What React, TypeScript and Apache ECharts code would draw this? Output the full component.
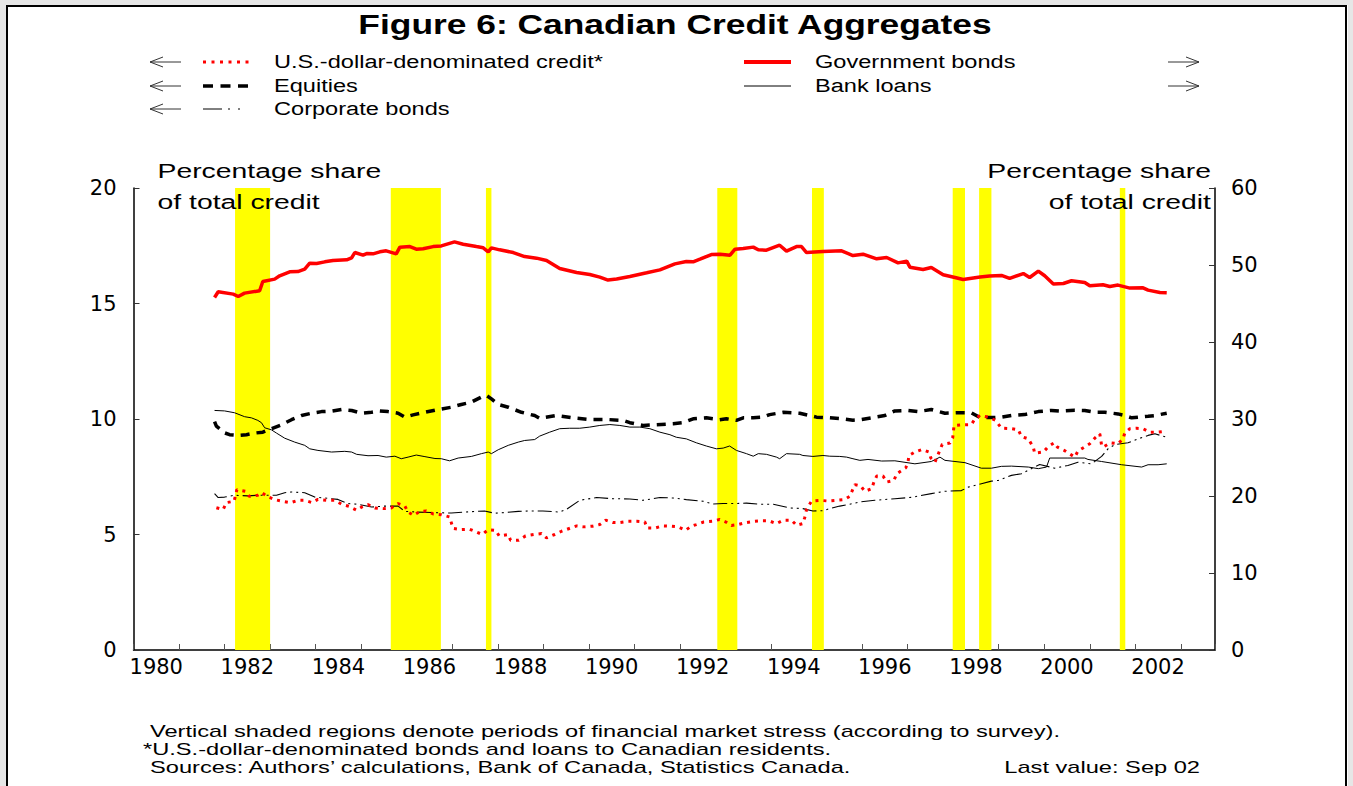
import React, { useEffect, useRef } from "react";
import * as echarts from "echarts";

// Periods of financial market stress (start year, end year)
const stressPeriods: [number, number][] = [
  [1982.23, 1983.0], [1985.65, 1986.75], [1987.74, 1987.86], [1992.82, 1993.26],
  [1994.9, 1995.16], [1997.99, 1998.26], [1998.57, 1998.84], [2001.66, 2001.78],
];

// Government bonds (right axis, % of total credit)
const govBonds: [number, number][] = [
  [1981.78,45.78],[1981.86,46.52],[1982.19,46.22],[1982.30,45.91],[1982.44,46.35],[1982.77,46.65],[1982.84,47.86],
  [1983.10,48.17],[1983.21,48.60],[1983.43,49.11],[1983.61,49.15],[1983.76,49.46],[1983.87,50.24],[1984.02,50.19],
  [1984.20,50.41],[1984.38,50.58],[1984.68,50.67],[1984.79,50.93],[1984.86,51.62],[1985.04,51.28],[1985.12,51.49],
  [1985.26,51.45],[1985.41,51.71],[1985.55,51.84],[1985.77,51.45],[1985.85,52.32],[1986.07,52.39],[1986.21,52.06],
  [1986.36,52.10],[1986.58,52.39],[1986.76,52.48],[1987.05,53.00],[1987.24,52.70],[1987.53,52.39],[1987.68,52.23],
  [1987.79,51.71],[1987.86,52.23],[1988.04,51.97],[1988.34,51.62],[1988.59,51.10],[1988.85,50.89],[1989.07,50.58],
  [1989.36,49.54],[1989.73,49.02],[1990.02,48.76],[1990.24,48.43],[1990.42,48.04],[1990.61,48.17],[1990.90,48.51],
  [1991.27,48.99],[1991.56,49.37],[1991.89,50.15],[1992.14,50.45],[1992.29,50.41],[1992.44,50.76],[1992.69,51.36],
  [1992.88,51.41],[1993.10,51.28],[1993.21,52.06],[1993.39,52.13],[1993.61,52.32],[1993.72,51.97],[1993.90,51.93],
  [1994.19,52.57],[1994.34,51.80],[1994.56,52.39],[1994.67,52.39],[1994.78,51.62],[1995.14,51.75],[1995.55,51.84],
  [1995.80,51.23],[1996.02,51.41],[1996.32,50.80],[1996.54,50.97],[1996.79,50.28],[1996.98,50.50],[1997.05,49.72],
  [1997.34,49.41],[1997.52,49.67],[1997.78,48.73],[1998.04,48.38],[1998.22,48.12],[1998.59,48.43],[1998.80,48.56],
  [1999.06,48.64],[1999.24,48.25],[1999.54,48.89],[1999.68,48.38],[1999.87,49.21],[2000.01,48.60],[2000.20,47.52],
  [2000.42,47.60],[2000.60,47.95],[2000.89,47.73],[2001.00,47.30],[2001.29,47.43],[2001.44,47.21],[2001.62,47.39],
  [2001.88,47.00],[2002.17,47.04],[2002.28,46.74],[2002.54,46.43],[2002.69,46.39],
];

// Equities (left axis)
const equities: [number, number][] = [
  [1981.78,9.89],[1981.82,9.69],[1982.00,9.40],[1982.11,9.32],[1982.30,9.29],[1982.48,9.32],[1982.66,9.39],
  [1982.84,9.43],[1983.03,9.58],[1983.25,9.75],[1983.47,9.97],[1983.69,10.15],[1983.91,10.25],[1984.13,10.32],
  [1984.35,10.34],[1984.57,10.41],[1984.79,10.37],[1985.01,10.25],[1985.23,10.29],[1985.41,10.35],[1985.59,10.32],
  [1985.81,10.25],[1985.96,10.08],[1986.14,10.18],[1986.40,10.29],[1986.69,10.41],[1986.98,10.51],[1987.20,10.63],
  [1987.42,10.73],[1987.68,10.99],[1987.75,11.02],[1987.86,10.87],[1988.01,10.63],[1988.23,10.51],[1988.52,10.29],
  [1988.81,10.15],[1988.92,10.03],[1989.29,10.15],[1989.65,10.05],[1990.02,9.98],[1990.39,9.98],[1990.75,9.94],
  [1990.90,9.84],[1991.19,9.72],[1991.48,9.75],[1991.85,9.79],[1992.07,9.84],[1992.29,10.01],[1992.58,10.05],
  [1992.87,9.97],[1993.02,10.01],[1993.24,9.94],[1993.39,10.05],[1993.61,10.05],[1993.83,10.08],[1993.97,10.19],
  [1994.27,10.29],[1994.63,10.25],[1995.00,10.08],[1995.29,10.05],[1995.58,10.01],[1995.80,9.95],[1995.99,9.98],
  [1996.21,10.05],[1996.50,10.15],[1996.72,10.35],[1997.01,10.37],[1997.23,10.32],[1997.52,10.41],[1997.82,10.25],
  [1998.11,10.27],[1998.40,10.27],[1998.59,10.06],[1998.84,10.06],[1999.06,10.08],[1999.28,10.15],[1999.57,10.19],
  [1999.87,10.32],[2000.16,10.37],[2000.38,10.34],[2000.67,10.38],[2000.89,10.37],[2001.11,10.29],[2001.33,10.29],
  [2001.62,10.22],[2001.77,10.15],[2001.92,10.05],[2002.28,10.12],[2002.43,10.15],[2002.69,10.25],
];

// Bank loans (left axis)
const bankLoans: [number, number][] = [
  [1981.78,10.37],[1982.00,10.35],[1982.22,10.27],[1982.44,10.10],[1982.59,10.05],[1982.73,9.94],[1982.81,9.84],
  [1982.88,9.62],[1983.03,9.53],[1983.14,9.39],[1983.32,9.17],[1983.54,9.00],[1983.76,8.86],[1983.87,8.71],
  [1984.05,8.64],[1984.35,8.57],[1984.64,8.60],[1984.79,8.57],[1984.90,8.47],[1985.15,8.41],[1985.37,8.42],
  [1985.55,8.35],[1985.74,8.39],[1985.88,8.28],[1986.03,8.35],[1986.21,8.44],[1986.40,8.37],[1986.62,8.29],
  [1986.76,8.28],[1986.94,8.19],[1987.13,8.31],[1987.42,8.38],[1987.64,8.50],[1987.79,8.57],[1987.86,8.50],
  [1988.01,8.67],[1988.23,8.86],[1988.45,9.00],[1988.59,9.07],[1988.81,9.11],[1988.92,9.26],[1989.14,9.43],
  [1989.36,9.58],[1989.58,9.60],[1989.80,9.60],[1990.02,9.65],[1990.24,9.72],[1990.46,9.76],[1990.68,9.72],
  [1990.90,9.65],[1991.12,9.65],[1991.34,9.58],[1991.56,9.43],[1991.78,9.32],[1991.92,9.21],[1992.14,9.14],
  [1992.36,8.97],[1992.58,8.83],[1992.80,8.71],[1992.95,8.74],[1993.09,8.83],[1993.24,8.64],[1993.46,8.50],
  [1993.61,8.39],[1993.72,8.50],[1993.90,8.47],[1994.12,8.35],[1994.19,8.28],[1994.34,8.50],[1994.63,8.47],
  [1994.70,8.42],[1994.92,8.38],[1995.14,8.42],[1995.29,8.39],[1995.51,8.38],[1995.66,8.35],[1995.80,8.28],
  [1995.95,8.21],[1996.13,8.25],[1996.43,8.18],[1996.72,8.19],[1997.16,8.06],[1997.52,8.16],[1997.71,8.35],
  [1997.82,8.21],[1998.04,8.16],[1998.26,8.11],[1998.62,7.87],[1998.84,7.87],[1999.06,7.95],[1999.28,7.96],
  [1999.65,7.92],[1999.87,7.85],[2000.05,7.92],[2000.12,8.31],[2000.52,8.31],[2000.89,8.31],[2000.96,8.25],
  [2001.26,8.16],[2001.70,8.02],[2002.14,7.92],[2002.28,8.02],[2002.50,8.02],[2002.69,8.06],
];

// Corporate bonds (left axis)
const corporateBonds: [number, number][] = [
  [1981.78,6.77],[1981.86,6.60],[1982.00,6.62],[1982.22,6.70],[1982.51,6.67],[1982.73,6.70],[1983.14,6.70],
  [1983.32,6.81],[1983.47,6.84],[1983.76,6.81],[1983.98,6.62],[1984.20,6.58],[1984.49,6.52],[1984.71,6.34],
  [1984.93,6.31],[1985.23,6.19],[1985.52,6.23],[1985.81,6.23],[1985.96,6.00],[1986.25,5.97],[1986.54,5.95],
  [1986.98,5.93],[1987.27,5.97],[1987.71,6.02],[1987.93,5.92],[1988.15,5.95],[1988.45,6.00],[1988.74,6.02],
  [1988.99,6.02],[1989.36,5.97],[1989.51,6.09],[1989.80,6.48],[1990.17,6.60],[1990.53,6.55],[1990.90,6.54],
  [1991.19,6.48],[1991.56,6.60],[1991.85,6.58],[1992.14,6.51],[1992.51,6.44],[1992.73,6.32],[1992.95,6.34],
  [1993.24,6.34],[1993.46,6.36],[1993.75,6.31],[1994.05,6.31],[1994.41,6.15],[1994.70,6.12],[1994.92,6.02],
  [1995.14,6.03],[1995.29,6.12],[1995.51,6.23],[1995.73,6.31],[1995.95,6.41],[1996.28,6.48],[1996.72,6.55],
  [1997.09,6.61],[1997.52,6.77],[1997.82,6.87],[1998.18,6.90],[1998.33,7.05],[1998.62,7.20],[1998.84,7.31],
  [1998.99,7.34],[1999.28,7.56],[1999.50,7.63],[1999.65,7.78],[1999.90,8.03],[2000.23,7.87],[2000.52,7.99],
  [2000.74,8.13],[2001.04,8.06],[2001.26,8.38],[2001.40,8.71],[2001.55,8.89],[2001.84,8.97],[2002.06,9.14],
  [2002.28,9.29],[2002.43,9.36],[2002.69,9.21],
];

// U.S.-dollar-denominated credit (left axis)
const usdCredit: [number, number][] = [
  [1981.82,6.16],[1981.97,6.08],[1982.04,6.38],[1982.21,6.44],[1982.27,6.94],[1982.46,6.87],[1982.54,6.65],
  [1982.73,6.70],[1982.82,6.81],[1982.95,6.64],[1983.10,6.51],[1983.27,6.44],[1983.45,6.38],[1983.61,6.48],
  [1983.76,6.48],[1983.92,6.38],[1984.05,6.52],[1984.24,6.48],[1984.42,6.48],[1984.57,6.31],[1984.73,6.22],
  [1984.90,6.05],[1985.01,6.19],[1985.15,6.29],[1985.30,6.15],[1985.48,6.12],[1985.66,6.15],[1985.81,6.34],
  [1985.96,6.23],[1986.03,5.97],[1986.15,5.83],[1986.29,6.00],[1986.43,6.02],[1986.58,5.89],[1986.76,5.86],
  [1986.94,5.76],[1987.02,5.26],[1987.20,5.21],[1987.38,5.23],[1987.53,5.11],[1987.66,5.00],[1987.79,5.21],
  [1987.95,5.18],[1988.03,4.94],[1988.23,5.00],[1988.28,4.75],[1988.46,4.75],[1988.61,4.94],[1988.80,5.00],
  [1988.96,5.04],[1989.07,4.85],[1989.25,5.00],[1989.40,5.14],[1989.57,5.26],[1989.73,5.37],[1989.89,5.33],
  [1990.08,5.36],[1990.24,5.43],[1990.37,5.62],[1990.53,5.52],[1990.68,5.52],[1990.86,5.57],[1991.05,5.57],
  [1991.23,5.54],[1991.28,5.28],[1991.45,5.28],[1991.62,5.37],[1991.78,5.36],[1991.96,5.33],[1992.12,5.18],
  [1992.25,5.36],[1992.36,5.43],[1992.52,5.54],[1992.71,5.57],[1992.87,5.65],[1993.01,5.54],[1993.13,5.39],
  [1993.28,5.43],[1993.46,5.52],[1993.63,5.57],[1993.79,5.59],[1993.96,5.59],[1994.12,5.47],[1994.27,5.62],
  [1994.45,5.62],[1994.56,5.40],[1994.70,5.47],[1994.74,5.73],[1994.78,6.08],[1994.89,6.45],[1995.07,6.48],
  [1995.25,6.45],[1995.44,6.48],[1995.61,6.51],[1995.73,6.65],[1995.84,7.16],[1995.97,7.10],[1996.06,6.87],
  [1996.21,6.98],[1996.26,7.27],[1996.32,7.53],[1996.46,7.53],[1996.54,7.27],[1996.70,7.34],[1996.76,7.63],
  [1996.96,7.89],[1997.01,8.16],[1997.03,8.42],[1997.16,8.57],[1997.32,8.68],[1997.47,8.57],[1997.51,8.31],
  [1997.60,8.13],[1997.76,8.90],[1997.93,8.96],[1997.99,9.19],[1998.02,9.72],[1998.22,9.75],[1998.40,9.76],
  [1998.48,10.01],[1998.59,10.15],[1998.77,10.08],[1998.93,9.94],[1999.06,9.60],[1999.28,9.58],[1999.43,9.53],
  [1999.50,9.24],[1999.65,9.14],[1999.76,8.78],[1999.79,8.52],[1999.98,8.57],[2000.09,8.81],[2000.22,8.97],
  [2000.29,8.78],[2000.45,8.63],[2000.67,8.35],[2000.74,8.61],[2000.88,8.78],[2001.00,8.93],[2001.11,9.17],
  [2001.22,9.36],[2001.26,8.86],[2001.29,8.78],[2001.46,8.97],[2001.62,8.93],[2001.73,9.14],[2001.77,9.40],
  [2001.88,9.58],[2002.03,9.60],[2002.17,9.58],[2002.32,9.43],[2002.50,9.43],[2002.69,9.47],
];

const titleText = "Figure 6: Canadian Credit Aggregates";
const footnotes = [
  "Vertical shaded regions denote periods of financial market stress (according to survey).",
  "*U.S.-dollar-denominated bonds and loans to Canadian residents.",
  "Sources: Authors\u2019 calculations, Bank of Canada, Statistics Canada.",
];
const lastValueText = "Last value: Sep 02";

const FONT = "'Liberation Sans', Arial, sans-serif";

function txt(x: number, y: number, text: string, size: number, sx: number, align = "left", bold = false) {
  return {
    type: "text",
    x,
    y,
    scaleX: sx,
    z: 100,
    silent: true,
    style: {
      text,
      fill: "#000",
      fontSize: size,
      fontFamily: FONT,
      fontWeight: bold ? "bold" : "normal",
      textAlign: align,
      align,
      textVerticalAlign: "middle",
      verticalAlign: "middle",
    },
  };
}

function seg(x1: number, y: number, x2: number, stroke: string, width: number, dash?: number[]) {
  return {
    type: "line",
    z: 100,
    silent: true,
    shape: { x1, y1: y, x2, y2: y },
    style: { stroke, lineWidth: width, lineDash: dash || null, lineCap: "butt" },
  };
}

function arrowLeft(y: number) {
  return [
    seg(150, y, 181, "#333", 1),
    { type: "polyline", z: 100, silent: true, shape: { points: [[163, y - 5], [150, y], [163, y + 5]] }, style: { stroke: "#333", lineWidth: 1, fill: null } },
  ];
}
function arrowRight(y: number) {
  return [
    seg(1168, y, 1199, "#333", 1),
    { type: "polyline", z: 100, silent: true, shape: { points: [[1186, y - 5], [1199, y], [1186, y + 5]] }, style: { stroke: "#333", lineWidth: 1, fill: null } },
  ];
}

export default function App() {
  const ref = useRef<HTMLDivElement>(null);
  useEffect(() => {
    const chart = echarts.init(ref.current as HTMLDivElement, null, { renderer: "svg" });
    const axisFont = { color: "#000", fontSize: 21, fontFamily: "'DejaVu Sans', sans-serif" };
    const rows = [62, 86, 109];
    const option: any = {
      animation: false,
      backgroundColor: "#ffffff",
      grid: { left: 133.5, right: 138, top: 188, bottom: 136, containLabel: false },
      xAxis: {
        type: "value",
        min: 1980,
        max: 2003.75,
        interval: 1,
        axisLine: { show: true, onZero: false, lineStyle: { color: "#000", width: 1.5 } },
        axisTick: { show: true, inside: true, length: 6, lineStyle: { color: "#555", width: 1 } },
        splitLine: { show: false },
        axisLabel: {
          ...axisFont,
          margin: 6,
          padding: [0, 0, 0, 45.5],
          formatter: (v: number) => (Number.isInteger(v) && v % 2 === 0 ? String(v) : ""),
        },
      },
      yAxis: [
        {
          type: "value",
          position: "left",
          min: 0,
          max: 20,
          interval: 5,
          axisLine: { show: true, lineStyle: { color: "#000", width: 1.5 } },
          axisTick: { show: true, inside: true, length: 6, lineStyle: { color: "#333" } },
          splitLine: { show: false },
          axisLabel: { ...axisFont, margin: 17 },
        },
        {
          type: "value",
          position: "right",
          min: 0,
          max: 60,
          interval: 10,
          axisLine: { show: true, lineStyle: { color: "#000", width: 1.5 } },
          axisTick: { show: true, inside: true, length: 6, lineStyle: { color: "#333" } },
          splitLine: { show: false },
          axisLabel: { ...axisFont, margin: 16 },
        },
      ],
      series: [
        {
          name: "Stress",
          type: "line",
          data: [],
          z: 1,
          silent: true,
          markArea: {
            silent: true,
            itemStyle: { color: "#ffff00", opacity: 1 },
            data: stressPeriods.map(([s, e]) => [{ xAxis: s }, { xAxis: e }]),
          },
        },
        {
          name: "Bank loans",
          type: "line",
          data: bankLoans,
          yAxisIndex: 0,
          showSymbol: false,
          symbol: "none",
          z: 3,
          lineStyle: { color: "#000", width: 1 },
        },
        {
          name: "Corporate bonds",
          type: "line",
          data: corporateBonds,
          yAxisIndex: 0,
          showSymbol: false,
          symbol: "none",
          z: 3,
          lineStyle: { color: "#000", width: 1.1, type: [14, 4, 2, 4, 2, 4] },
        },
        {
          name: "Equities",
          type: "line",
          data: equities,
          yAxisIndex: 0,
          showSymbol: false,
          symbol: "none",
          z: 4,
          lineStyle: { color: "#000", width: 3.5, type: [9, 7], cap: "butt" },
        },
        {
          name: "U.S.-dollar-denominated credit*",
          type: "line",
          data: usdCredit,
          yAxisIndex: 0,
          showSymbol: false,
          symbol: "none",
          z: 4,
          lineStyle: { color: "#ff0000", width: 3, type: [3, 5], cap: "butt" },
        },
        {
          name: "Government bonds",
          type: "line",
          data: govBonds,
          yAxisIndex: 1,
          showSymbol: false,
          symbol: "none",
          z: 4,
          lineStyle: { color: "#ff0000", width: 3.5 },
        },
      ],
      graphic: {
        elements: [
          // outer gray margin and frame
          { type: "rect", silent: true, z: 90, shape: { x: 0, y: 0, width: 1353, height: 5 }, style: { fill: "#e6e6e6" } },
          { type: "rect", silent: true, z: 90, shape: { x: 0, y: 0, width: 6, height: 786 }, style: { fill: "#e6e6e6" } },
          { type: "rect", silent: true, z: 90, shape: { x: 1348, y: 0, width: 5, height: 786 }, style: { fill: "#e6e6e6" } },
          { type: "rect", silent: true, z: 91, shape: { x: 7, y: 6, width: 1339, height: 800 }, style: { fill: null, stroke: "#000", lineWidth: 2 } },
          txt(675, 25, titleText, 27, 1.31, "center", true),
          // legend
          ...arrowLeft(rows[0]), ...arrowLeft(rows[1]), ...arrowLeft(rows[2]),
          ...arrowRight(rows[0]), ...arrowRight(rows[1]),
          seg(203, rows[0], 249, "#ff0000", 3, [3, 5.5]),
          seg(203, rows[1], 249, "#000", 3.5, [10, 7.5]),
          seg(203, rows[2], 249, "#000", 1, [19, 6, 2, 8, 2, 20]),
          seg(744, rows[0], 791, "#ff0000", 4),
          seg(744, rows[1], 791, "#000", 1),
          txt(274, rows[0], "U.S.-dollar-denominated credit*", 18, 1.31),
          txt(274, rows[1], "Equities", 18, 1.31),
          txt(274, rows[2], "Corporate bonds", 18, 1.31),
          txt(815, rows[0], "Government bonds", 18, 1.31),
          txt(815, rows[1], "Bank loans", 18, 1.31),
          // axis titles
          txt(157.5, 170, "Percentage share", 21, 1.35),
          txt(157.5, 201, "of total credit", 21, 1.35),
          txt(1211, 170, "Percentage share", 21, 1.35, "right"),
          txt(1211, 201, "of total credit", 21, 1.35, "right"),
          // footnotes
          txt(150, 731, footnotes[0], 17, 1.39),
          txt(143, 749, footnotes[1], 17, 1.39),
          txt(150, 767, footnotes[2], 17, 1.39),
          txt(1200, 767, lastValueText, 17, 1.39, "right"),
        ],
      },
    };
    chart.setOption(option);
    return () => chart.dispose();
  }, []);
  return (
    <div
      ref={ref}
      style={{ position: "fixed", left: 0, top: 0, width: 1353, height: 786, background: "#fff" }}
    />
  );
}
